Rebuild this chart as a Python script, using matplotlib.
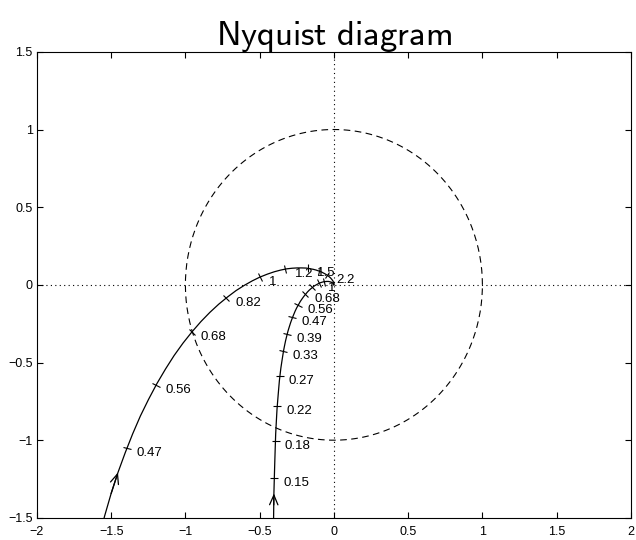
import numpy as np
import matplotlib
matplotlib.use("Agg")
import matplotlib.pyplot as plt
from matplotlib.markers import MarkerStyle
from matplotlib.transforms import Affine2D

# loop 1 (outer curve), values in thousandths
re1 = [-1585, -1543, -1500, -1454, -1405, -1355, -1303, -1248, -1192, -1134, -1076, -1016,
       -956, -895, -835, -775, -716, -659, -603, -549, -498, -448, -402, -359, -318, -281,
       -247, -216, -187, -162, -139, -119, -101, -86, -72, -60, -50, -41, -34, -28, -22,
       -18, -14, -11, -8, -6, -5, -3, -2, -1, -1, 0, 0, 1, 0]
im1 = [-1634, -1485, -1343, -1208, -1080, -959, -844, -737, -636, -542, -455, -375, -303,
       -236, -177, -124, -78, -37, -3, 26, 50, 69, 84, 95, 103, 107, 109, 109, 108, 104,
       100, 95, 89, 84, 77, 71, 65, 59, 54, 49, 44, 39, 35, 31, 27, 24, 21, 19, 17, 14,
       13, 11, 10, 8, 0]

# loop 2 (inner curve)
re2 = [-409, -408, -406, -405, -404, -402, -400, -398, -396, -394, -392, -389, -386, -383,
       -379, -375, -371, -367, -362, -357, -351, -345, -339, -332, -325, -317, -309, -300,
       -291, -281, -271, -261, -250, -238, -227, -215, -203, -191, -179, -167, -155, -143,
       -132, -121, -110, -100, -90, -80, -72, -64, -56, -49, -43, -37, -32, -28, -24, -20,
       -17, -14, -12, -10, -8, -7, -6, -4, -4, -3, -2, -2, -1, 0]
im2 = [-1660, -1575, -1494, -1417, -1343, -1272, -1204, -1139, -1076, -1017, -959, -904,
       -851, -800, -752, -705, -660, -616, -575, -535, -497, -460, -424, -390, -358, -327,
       -297, -269, -242, -216, -192, -169, -147, -127, -108, -91, -75, -61, -47, -35, -25,
       -16, -7, -1, 5, 10, 14, 17, 19, 21, 21, 22, 22, 22, 21, 20, 19, 18, 17, 15, 14, 13,
       12, 11, 10, 9, 8, 7, 6, 5, 5, 0]

# frequency marks on each loop
tick_re1 = [-1.393, -1.197, -0.958, -0.724, -0.498, -0.326, -0.175, -0.097, -0.046]
tick_im1 = [-1.048, -0.644, -0.305, -0.084, 0.050, 0.101, 0.106, 0.088, 0.063]
tick_lab1 = ["0.47", "0.56", "0.68", "0.82", "1", "1.2", "1.5", "", "2.2"]

tick_re2 = [-0.401, -0.393, -0.381, -0.363, -0.340, -0.314, -0.279, -0.239, -0.192, -0.145, -0.100, -0.065]
tick_im2 = [-1.241, -1.002, -0.779, -0.587, -0.428, -0.316, -0.210, -0.129, -0.061, -0.017, 0.010, 0.020]
tick_lab2 = ["0.15", "0.18", "0.22", "0.27", "0.33", "0.39", "0.47", "0.56", "0.68", "", "1", ""]

xticks = [-2, -1.5, -1, -0.5, 0, 0.5, 1, 1.5, 2]
xlabels = ["\u22122", "\u22121.5", "\u22121", "\u22120.5", "0", "0.5", "1", "1.5", "2"]
yticks = [-1.5, -1, -0.5, 0, 0.5, 1, 1.5]
ylabels = ["\u22121.5", "\u22121", "\u22120.5", "0", "0.5", "1", "1.5"]

plt.rcParams['font.family'] = ['Liberation Sans', 'DejaVu Sans']
plt.rcParams['mathtext.fontset'] = 'cm'

fig = plt.figure(figsize=(6.36, 5.40), dpi=100)
ax = fig.add_axes([0.058, 0.041, 0.934, 0.863])
ax.set_xlim(-2, 2)
ax.set_ylim(-1.5, 1.5)

# unit circle + axes through origin
th = np.linspace(0, 2 * np.pi, 400)
ax.plot(np.cos(th), np.sin(th), color='k', ls=(0, (6, 4)), lw=0.8)
ax.axhline(0, color='k', ls=(0, (1, 3)), lw=0.8)
ax.axvline(0, color='k', ls=(0, (1, 3)), lw=0.8)

loops = [(re1, im1, tick_re1, tick_im1, tick_lab1, -1.20),
         (re2, im2, tick_re2, tick_im2, tick_lab2, -1.31)]
for re, im, tr, ti, labs, ay in loops:
    re = np.array(re) / 1000.0
    im = np.array(im) / 1000.0
    ax.plot(re, im, color='k', lw=0.9)
    pts = ax.transData.transform(np.column_stack([re, im]))
    tp = ax.transData.transform(np.column_stack([tr, ti]))
    for (px, py), lab, x, y in zip(tp, labs, tr, ti):
        # tick drawn across the curve, perpendicular to it
        d = np.hypot(pts[:, 0] - px, pts[:, 1] - py)
        i = int(np.argmin(d))
        i0, i1 = max(i - 1, 0), min(i + 1, len(re) - 1)
        ang = np.degrees(np.arctan2(pts[i1, 1] - pts[i0, 1], pts[i1, 0] - pts[i0, 0]))
        m = MarkerStyle('_', transform=Affine2D().rotate_deg(ang + 90))
        ax.plot([x], [y], marker=m, ms=6, mew=0.8, color='k')
        if lab:
            ax.annotate(lab, (x, y), xytext=(9, -5), textcoords='offset pixels',
                        ha='left', va='center', fontsize=9.5)
    j = int(np.argmin(np.abs(im - ay)))
    ax.annotate('', xy=(re[j], im[j]), xytext=(re[j - 1], im[j - 1]),
                arrowprops=dict(arrowstyle='->,head_length=0.7,head_width=0.3', lw=0.9,
                                color='k', shrinkA=0, shrinkB=0))

ax.set_xticks(xticks)
ax.set_xticklabels(xlabels)
ax.set_yticks(yticks)
ax.set_yticklabels(ylabels)
ax.tick_params(direction='in', top=True, right=True, length=4, labelsize=9)
ax.tick_params(axis='x', pad=6)
ax.tick_params(axis='y', pad=3)
ax.set_title(r'$\mathsf{Nyquist\ diagram}$', fontsize=25, pad=5)

fig.savefig("out.png")
